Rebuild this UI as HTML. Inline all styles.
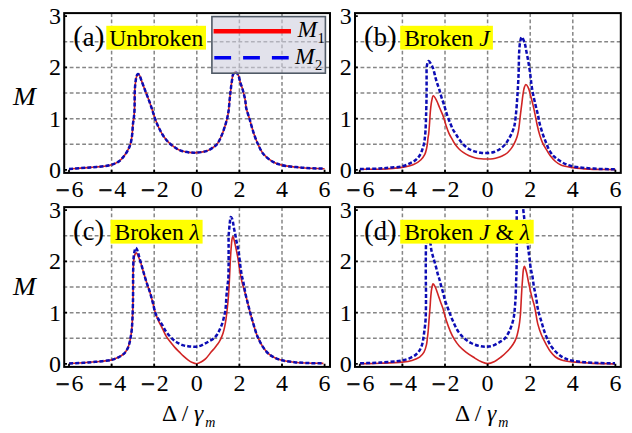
<!DOCTYPE html>
<html><head><meta charset="utf-8"><title>M vs detuning</title><style>
html,body{margin:0;padding:0;background:#fff;overflow:hidden;}
svg{display:block;}
.grid line{stroke:#868686;stroke-width:1.5;stroke-dasharray:3.8 2.45;fill:none;}
.frame{fill:none;stroke:#000;stroke-width:2;}
.tick{stroke:#000;stroke-width:1.8;fill:none;}
.tl{font-family:"Liberation Serif",serif;font-size:24px;fill:#000;}
.mn{stroke:#000;stroke-width:0.9px;}
.pp{font-size:29px;}
.lab.pl{font-size:26.5px;}
.lab{font-family:"Liberation Serif",serif;font-size:23.5px;fill:#000;}
.it{font-style:italic;}
.sub{font-family:"Liberation Serif",serif;font-size:14.5px;fill:#000;}
.sub2{font-size:14px;}
.ml{font-family:"Liberation Serif",serif;font-style:italic;font-size:26px;fill:#000;}
.ybox{fill:#ffff00;}
.leg{fill:#cfcfdd;fill-opacity:0.6;stroke:#505a66;stroke-width:1.6;}
.m1{fill:none;stroke:#d02424;stroke-width:1.6;stroke-linejoin:round;}
.m2d{fill:none;stroke:#0c0cb4;stroke-width:2.5;stroke-dasharray:4 2.1;}
</style></head>
<body><svg width="632" height="433" viewBox="0 0 632 433">
<rect width="632" height="433" fill="#fff"/>
<clipPath id="clip00"><rect x="64.20" y="13.10" width="265.80" height="159.80"/></clipPath>
<g class="grid"><line x1="111.60" y1="13.25" x2="111.60" y2="172.90"/><line x1="154.20" y1="13.25" x2="154.20" y2="172.90"/><line x1="196.80" y1="13.25" x2="196.80" y2="172.90"/><line x1="239.40" y1="13.25" x2="239.40" y2="172.90"/><line x1="282.00" y1="13.25" x2="282.00" y2="172.90"/><line x1="63.45" y1="144.28" x2="330.00" y2="144.28"/><line x1="63.45" y1="118.65" x2="330.00" y2="118.65"/><line x1="63.45" y1="93.03" x2="330.00" y2="93.03"/><line x1="63.45" y1="67.40" x2="330.00" y2="67.40"/><line x1="63.45" y1="41.78" x2="330.00" y2="41.78"/></g>
<path class="m1" clip-path="url(#clip00)" d="M69.00 168.90 C76.10 168.40 83.34 168.03 90.30 167.40 C97.00 166.79 104.85 166.54 110.00 165.20 C113.53 164.28 116.16 163.25 118.60 161.60 C120.88 160.06 122.64 157.94 124.30 155.80 C125.98 153.64 127.52 150.86 128.60 148.70 C129.45 147.01 129.96 145.88 130.50 144.00 C131.25 141.40 131.80 137.65 132.20 134.40 C132.61 131.09 132.58 127.23 132.90 124.30 C133.15 122.04 133.55 120.47 133.80 118.30 C134.10 115.76 134.34 113.24 134.50 110.00 C134.72 105.42 134.60 97.30 134.70 93.40 C134.76 91.28 134.79 90.16 134.90 88.50 C135.02 86.77 135.19 84.97 135.40 83.20 C135.62 81.41 135.78 79.40 136.20 77.80 C136.56 76.46 136.93 74.50 137.60 74.20 C138.04 74.00 138.73 74.34 139.20 74.80 C140.02 75.61 140.45 77.89 141.10 79.60 C141.84 81.53 142.61 83.68 143.40 85.80 C144.24 88.04 145.08 90.30 146.00 92.70 C147.01 95.34 148.17 98.17 149.20 101.00 C150.27 103.93 151.31 107.01 152.30 110.00 C153.28 112.94 154.00 115.82 155.10 118.80 C156.28 121.98 157.69 125.43 159.20 128.50 C160.64 131.42 162.14 134.29 163.90 136.80 C165.56 139.16 167.24 141.22 169.40 143.20 C171.78 145.38 175.32 147.86 177.70 149.20 C179.31 150.10 180.36 150.50 182.00 151.00 C184.02 151.62 186.59 152.13 189.00 152.40 C191.52 152.68 194.02 152.80 196.80 152.60 C200.03 152.36 204.14 151.93 207.20 150.80 C209.93 149.79 212.60 147.82 214.40 146.50 C215.60 145.62 216.27 145.19 217.20 144.00 C218.65 142.14 220.22 138.72 221.50 135.80 C222.88 132.65 224.10 128.82 225.10 125.70 C225.95 123.06 226.61 120.85 227.20 118.30 C227.82 115.63 228.30 112.96 228.70 110.00 C229.16 106.62 229.38 102.22 229.70 99.10 C229.94 96.74 230.17 94.98 230.40 92.90 C230.63 90.81 230.83 88.75 231.10 86.60 C231.39 84.35 231.73 81.87 232.10 79.70 C232.43 77.76 232.45 75.56 233.20 74.20 C233.77 73.15 234.80 71.84 235.60 71.90 C236.54 71.97 237.68 74.05 238.40 75.50 C239.27 77.24 239.47 79.72 240.10 81.80 C240.73 83.89 241.57 85.91 242.20 88.00 C242.83 90.08 243.38 92.20 243.90 94.30 C244.41 96.37 244.92 98.32 245.30 100.50 C245.71 102.87 245.63 105.32 246.20 108.00 C246.88 111.21 248.28 114.64 249.40 118.40 C250.72 122.83 252.09 128.42 253.60 132.90 C254.94 136.88 256.23 140.42 257.90 144.00 C259.56 147.56 261.06 151.31 263.60 154.30 C266.24 157.41 270.27 160.37 273.60 162.20 C276.37 163.72 278.47 164.29 281.90 165.10 C287.13 166.33 295.25 167.10 302.20 167.70 C309.47 168.33 317.13 168.37 324.60 168.70"/>
<path class="m2d" clip-path="url(#clip00)" d="M69.00 168.90 C76.10 168.40 83.34 168.03 90.30 167.40 C97.00 166.79 104.85 166.54 110.00 165.20 C113.53 164.28 116.16 163.25 118.60 161.60 C120.88 160.06 122.64 157.94 124.30 155.80 C125.98 153.64 127.52 150.86 128.60 148.70 C129.45 147.01 129.96 145.88 130.50 144.00 C131.25 141.40 131.80 137.65 132.20 134.40 C132.61 131.09 132.58 127.23 132.90 124.30 C133.15 122.04 133.55 120.47 133.80 118.30 C134.10 115.76 134.34 113.24 134.50 110.00 C134.72 105.42 134.60 97.30 134.70 93.40 C134.76 91.28 134.79 90.16 134.90 88.50 C135.02 86.77 135.19 84.97 135.40 83.20 C135.62 81.41 135.78 79.40 136.20 77.80 C136.56 76.46 136.93 74.50 137.60 74.20 C138.04 74.00 138.73 74.34 139.20 74.80 C140.02 75.61 140.45 77.89 141.10 79.60 C141.84 81.53 142.61 83.68 143.40 85.80 C144.24 88.04 145.08 90.30 146.00 92.70 C147.01 95.34 148.17 98.17 149.20 101.00 C150.27 103.93 151.31 107.01 152.30 110.00 C153.28 112.94 154.00 115.82 155.10 118.80 C156.28 121.98 157.69 125.43 159.20 128.50 C160.64 131.42 162.14 134.29 163.90 136.80 C165.56 139.16 167.24 141.22 169.40 143.20 C171.78 145.38 175.32 147.86 177.70 149.20 C179.31 150.10 180.36 150.50 182.00 151.00 C184.02 151.62 186.59 152.13 189.00 152.40 C191.52 152.68 194.02 152.80 196.80 152.60 C200.03 152.36 204.14 151.93 207.20 150.80 C209.93 149.79 212.60 147.82 214.40 146.50 C215.60 145.62 216.27 145.19 217.20 144.00 C218.65 142.14 220.22 138.72 221.50 135.80 C222.88 132.65 224.10 128.82 225.10 125.70 C225.95 123.06 226.61 120.85 227.20 118.30 C227.82 115.63 228.30 112.96 228.70 110.00 C229.16 106.62 229.38 102.22 229.70 99.10 C229.94 96.74 230.17 94.98 230.40 92.90 C230.63 90.81 230.83 88.75 231.10 86.60 C231.39 84.35 231.73 81.87 232.10 79.70 C232.43 77.76 232.45 75.56 233.20 74.20 C233.77 73.15 234.80 71.84 235.60 71.90 C236.54 71.97 237.68 74.05 238.40 75.50 C239.27 77.24 239.47 79.72 240.10 81.80 C240.73 83.89 241.57 85.91 242.20 88.00 C242.83 90.08 243.38 92.20 243.90 94.30 C244.41 96.37 244.92 98.32 245.30 100.50 C245.71 102.87 245.63 105.32 246.20 108.00 C246.88 111.21 248.28 114.64 249.40 118.40 C250.72 122.83 252.09 128.42 253.60 132.90 C254.94 136.88 256.23 140.42 257.90 144.00 C259.56 147.56 261.06 151.31 263.60 154.30 C266.24 157.41 270.27 160.37 273.60 162.20 C276.37 163.72 278.47 164.29 281.90 165.10 C287.13 166.33 295.25 167.10 302.20 167.70 C309.47 168.33 317.13 168.37 324.60 168.70"/>
<path class="tick" d="M69.00 172.90 V169.70 M111.60 172.90 V169.70 M154.20 172.90 V169.70 M196.80 172.90 V169.70 M239.40 172.90 V169.70 M282.00 172.90 V169.70 M324.60 172.90 V169.70 M64.20 169.90 H67.00 M64.20 118.65 H67.00 M64.20 67.40 H67.00 M64.20 16.15 H67.00"/>
<rect class="frame" x="64.20" y="13.10" width="265.80" height="159.80"/>
<text class="tl mn" x="69.60" y="198.00" text-anchor="end">−</text>
<text class="tl" x="71.60" y="196.80">6</text>
<text class="tl mn" x="112.20" y="198.00" text-anchor="end">−</text>
<text class="tl" x="114.20" y="196.80">4</text>
<text class="tl mn" x="154.80" y="198.00" text-anchor="end">−</text>
<text class="tl" x="156.80" y="196.80">2</text>
<text class="tl" x="196.80" y="196.80" text-anchor="middle">0</text>
<text class="tl" x="239.40" y="196.80" text-anchor="middle">2</text>
<text class="tl" x="282.00" y="196.80" text-anchor="middle">4</text>
<text class="tl" x="324.60" y="196.80" text-anchor="middle">6</text>
<text class="tl" x="61.00" y="177.90" text-anchor="end">0</text>
<text class="tl" x="61.00" y="126.65" text-anchor="end">1</text>
<text class="tl" x="61.00" y="75.40" text-anchor="end">2</text>
<text class="tl" x="61.00" y="24.15" text-anchor="end">3</text>
<clipPath id="clip2900"><rect x="355.00" y="13.10" width="265.80" height="159.80"/></clipPath>
<g class="grid"><line x1="402.40" y1="13.25" x2="402.40" y2="172.90"/><line x1="445.00" y1="13.25" x2="445.00" y2="172.90"/><line x1="487.60" y1="13.25" x2="487.60" y2="172.90"/><line x1="530.20" y1="13.25" x2="530.20" y2="172.90"/><line x1="572.80" y1="13.25" x2="572.80" y2="172.90"/><line x1="354.25" y1="144.28" x2="620.80" y2="144.28"/><line x1="354.25" y1="118.65" x2="620.80" y2="118.65"/><line x1="354.25" y1="93.03" x2="620.80" y2="93.03"/><line x1="354.25" y1="67.40" x2="620.80" y2="67.40"/><line x1="354.25" y1="41.78" x2="620.80" y2="41.78"/></g>
<path class="m1" clip-path="url(#clip2900)" d="M359.90 169.20 C366.60 169.20 373.14 169.48 380.00 169.20 C387.22 168.91 396.05 168.40 402.20 167.40 C406.66 166.68 410.35 166.01 413.60 164.60 C416.36 163.41 418.78 161.81 420.70 160.00 C422.44 158.36 423.81 156.40 424.80 154.40 C425.75 152.49 426.16 150.20 426.60 148.30 C426.98 146.67 427.17 145.31 427.40 143.70 C427.65 141.93 427.77 139.86 428.00 138.10 C428.21 136.52 428.48 135.48 428.70 133.60 C429.07 130.50 429.41 125.15 429.70 121.20 C429.97 117.58 430.05 114.26 430.40 110.80 C430.75 107.33 431.18 103.17 431.80 100.40 C432.23 98.50 432.56 95.81 433.30 95.70 C434.09 95.58 435.52 98.61 436.50 100.40 C437.66 102.52 438.56 105.28 439.60 107.70 C440.63 110.11 441.86 112.69 442.70 114.90 C443.40 116.73 443.84 118.23 444.40 120.00 C445.01 121.91 445.48 123.88 446.20 126.00 C447.04 128.47 448.12 131.58 449.20 133.90 C450.11 135.85 451.12 137.38 452.10 139.10 C453.08 140.81 453.98 142.59 455.10 144.20 C456.21 145.79 457.44 147.33 458.80 148.70 C460.15 150.06 461.57 151.27 463.20 152.40 C464.97 153.62 467.04 154.77 469.10 155.70 C471.18 156.64 473.51 157.48 475.60 158.00 C477.46 158.46 479.12 158.63 481.00 158.80 C483.04 158.98 485.34 159.02 487.40 159.00 C489.33 158.98 491.20 158.95 493.00 158.70 C494.72 158.47 496.50 158.06 498.00 157.60 C499.29 157.20 500.21 156.81 501.50 156.20 C503.19 155.39 505.55 154.33 507.20 153.00 C508.80 151.71 510.11 150.04 511.30 148.40 C512.47 146.80 513.39 145.11 514.30 143.30 C515.27 141.39 516.21 139.26 516.90 137.20 C517.57 135.19 518.00 133.17 518.40 131.10 C518.80 129.00 519.01 127.02 519.30 124.70 C519.65 121.94 519.93 118.72 520.30 115.60 C520.69 112.30 521.17 108.80 521.60 105.40 C522.03 102.00 522.40 98.40 522.90 95.20 C523.35 92.34 523.70 89.01 524.40 87.10 C524.83 85.95 525.32 84.55 525.90 84.50 C526.51 84.45 527.37 85.91 528.00 87.10 C529.01 88.99 529.69 92.33 530.50 95.20 C531.40 98.39 532.32 102.08 533.10 105.40 C533.84 108.54 534.45 111.46 535.10 114.60 C535.78 117.89 536.33 121.31 537.10 124.70 C537.89 128.18 538.78 131.95 539.80 135.20 C540.71 138.10 541.60 140.74 542.80 143.30 C543.97 145.80 545.55 148.19 546.90 150.40 C548.11 152.39 549.12 154.20 550.50 156.00 C551.96 157.90 553.65 159.94 555.50 161.50 C557.30 163.02 559.00 164.33 561.40 165.30 C564.49 166.55 568.60 166.99 572.80 167.60 C577.91 168.34 583.62 168.76 589.90 169.10 C597.57 169.51 606.97 169.43 615.50 169.60"/>
<path class="m2d" clip-path="url(#clip2900)" d="M359.90 169.00 C366.60 168.83 374.43 168.81 380.00 168.50 C383.98 168.28 386.66 167.93 390.20 167.60 C394.04 167.24 398.62 167.27 402.20 166.40 C405.28 165.65 408.00 164.38 410.50 163.10 C412.75 161.95 414.89 160.81 416.60 159.20 C418.28 157.63 419.66 155.51 420.70 153.60 C421.64 151.87 422.13 150.02 422.70 148.30 C423.22 146.72 423.66 145.32 424.00 143.70 C424.37 141.94 424.56 140.10 424.80 138.10 C425.07 135.81 425.31 133.63 425.50 130.70 C425.78 126.44 425.93 120.69 426.10 115.00 C426.31 108.22 426.54 98.50 426.60 92.70 C426.64 89.00 426.60 86.55 426.60 83.60 C426.60 80.80 426.57 78.19 426.60 75.40 C426.63 72.49 426.38 69.07 426.80 66.50 C427.14 64.45 427.64 61.24 428.50 61.10 C429.41 60.95 431.25 64.34 432.20 66.20 C433.16 68.07 433.61 70.26 434.20 72.30 C434.78 74.32 435.17 76.47 435.70 78.40 C436.18 80.16 436.64 81.66 437.20 83.40 C437.82 85.34 438.64 87.38 439.30 89.50 C440.01 91.77 440.61 94.34 441.30 96.60 C441.94 98.69 442.66 100.62 443.30 102.60 C443.92 104.52 444.46 106.23 445.10 108.30 C445.87 110.78 446.69 113.88 447.60 116.50 C448.46 118.97 449.48 121.35 450.40 123.60 C451.24 125.66 451.94 127.72 452.90 129.50 C453.77 131.12 454.78 132.32 455.80 133.90 C456.97 135.72 458.14 137.94 459.50 139.80 C460.84 141.64 462.35 143.47 463.90 145.00 C465.33 146.41 466.78 147.68 468.40 148.70 C470.01 149.71 471.69 150.45 473.60 151.10 C475.75 151.83 478.34 152.39 480.70 152.70 C482.98 153.00 485.26 153.12 487.50 153.00 C489.70 152.88 491.93 152.66 494.00 152.00 C496.09 151.33 498.15 150.26 500.00 149.00 C501.89 147.71 503.68 146.08 505.20 144.30 C506.75 142.49 508.05 140.17 509.20 138.20 C510.21 136.45 511.03 134.82 511.80 133.10 C512.56 131.42 513.29 129.65 513.80 128.00 C514.26 126.52 514.48 125.54 514.80 123.70 C515.35 120.51 515.88 114.90 516.30 110.50 C516.72 106.10 517.02 101.32 517.30 97.30 C517.54 93.93 517.72 91.16 517.90 88.00 C518.09 84.73 518.25 81.47 518.40 78.00 C518.56 74.23 518.69 70.22 518.80 66.20 C518.92 62.00 518.86 57.43 519.10 53.30 C519.32 49.48 519.52 45.26 520.10 42.30 C520.51 40.22 521.00 37.16 521.70 37.10 C522.47 37.04 523.83 40.69 524.60 42.90 C525.52 45.54 525.90 48.97 526.50 52.00 C527.10 55.01 527.69 58.10 528.20 61.00 C528.68 63.69 529.10 66.10 529.50 68.80 C529.93 71.71 530.35 75.05 530.70 77.90 C531.01 80.41 531.14 82.49 531.50 85.00 C531.91 87.87 532.46 90.99 533.10 94.20 C533.81 97.76 534.75 101.76 535.60 105.40 C536.42 108.88 537.39 112.39 538.10 115.60 C538.73 118.45 539.00 120.85 539.70 123.70 C540.51 126.97 541.71 130.86 542.80 134.10 C543.78 137.01 544.85 139.67 545.90 142.30 C546.88 144.76 547.70 147.18 548.90 149.40 C550.07 151.57 551.68 153.99 553.00 155.50 C553.92 156.56 554.60 157.03 555.70 157.90 C557.22 159.10 559.45 160.75 561.40 161.90 C563.26 163.00 565.17 163.94 567.10 164.70 C568.97 165.43 570.55 165.92 572.80 166.40 C575.93 167.07 580.01 167.49 584.20 167.90 C589.32 168.40 595.86 168.77 601.30 169.00 C606.25 169.21 610.77 169.20 615.50 169.30"/>
<path class="tick" d="M359.80 172.90 V169.70 M402.40 172.90 V169.70 M445.00 172.90 V169.70 M487.60 172.90 V169.70 M530.20 172.90 V169.70 M572.80 172.90 V169.70 M615.40 172.90 V169.70 M355.00 169.90 H357.80 M355.00 118.65 H357.80 M355.00 67.40 H357.80 M355.00 16.15 H357.80"/>
<rect class="frame" x="355.00" y="13.10" width="265.80" height="159.80"/>
<text class="tl mn" x="360.40" y="198.00" text-anchor="end">−</text>
<text class="tl" x="362.40" y="196.80">6</text>
<text class="tl mn" x="403.00" y="198.00" text-anchor="end">−</text>
<text class="tl" x="405.00" y="196.80">4</text>
<text class="tl mn" x="445.60" y="198.00" text-anchor="end">−</text>
<text class="tl" x="447.60" y="196.80">2</text>
<text class="tl" x="487.60" y="196.80" text-anchor="middle">0</text>
<text class="tl" x="530.20" y="196.80" text-anchor="middle">2</text>
<text class="tl" x="572.80" y="196.80" text-anchor="middle">4</text>
<text class="tl" x="615.40" y="196.80" text-anchor="middle">6</text>
<text class="tl" x="351.80" y="177.90" text-anchor="end">0</text>
<text class="tl" x="351.80" y="126.65" text-anchor="end">1</text>
<text class="tl" x="351.80" y="75.40" text-anchor="end">2</text>
<text class="tl" x="351.80" y="24.15" text-anchor="end">3</text>
<clipPath id="clip0194"><rect x="64.20" y="207.10" width="265.80" height="159.80"/></clipPath>
<g class="grid"><line x1="111.60" y1="207.25" x2="111.60" y2="366.90"/><line x1="154.20" y1="207.25" x2="154.20" y2="366.90"/><line x1="196.80" y1="207.25" x2="196.80" y2="366.90"/><line x1="239.40" y1="207.25" x2="239.40" y2="366.90"/><line x1="282.00" y1="207.25" x2="282.00" y2="366.90"/><line x1="63.45" y1="338.27" x2="330.00" y2="338.27"/><line x1="63.45" y1="312.65" x2="330.00" y2="312.65"/><line x1="63.45" y1="287.02" x2="330.00" y2="287.02"/><line x1="63.45" y1="261.40" x2="330.00" y2="261.40"/><line x1="63.45" y1="235.78" x2="330.00" y2="235.78"/></g>
<path class="m1" clip-path="url(#clip0194)" d="M69.10 363.40 C73.73 363.20 78.48 363.08 83.00 362.80 C87.31 362.54 91.16 362.24 95.60 361.80 C100.60 361.30 107.34 360.92 111.50 359.90 C114.32 359.21 116.32 358.32 118.40 357.30 C120.27 356.39 122.03 355.54 123.50 354.20 C125.01 352.82 126.33 350.86 127.30 349.10 C128.19 347.48 128.68 345.86 129.20 344.10 C129.76 342.21 130.11 340.25 130.50 338.10 C130.95 335.63 131.39 332.93 131.70 330.10 C132.05 326.94 132.20 323.94 132.40 320.00 C132.67 314.46 132.89 305.99 133.00 300.00 C133.09 295.12 133.09 290.44 133.10 286.70 C133.11 283.97 133.09 282.18 133.10 279.60 C133.12 276.51 133.10 272.53 133.20 269.40 C133.29 266.73 133.41 264.22 133.60 262.00 C133.76 260.17 133.88 258.44 134.20 257.00 C134.46 255.86 134.79 254.77 135.20 254.00 C135.49 253.45 135.85 252.71 136.20 252.70 C136.55 252.69 136.97 253.44 137.30 254.00 C137.76 254.77 138.05 255.90 138.50 257.00 C139.06 258.35 139.85 259.95 140.40 261.50 C140.97 263.08 141.35 264.68 141.85 266.40 C142.41 268.32 143.01 270.47 143.60 272.50 C144.19 274.53 144.78 276.57 145.40 278.60 C146.02 280.64 146.65 282.74 147.30 284.70 C147.91 286.54 148.53 287.94 149.20 290.00 C150.12 292.84 151.22 296.60 152.20 300.20 C153.29 304.21 154.21 309.29 155.40 313.00 C156.35 315.96 157.32 318.19 158.50 320.80 C159.74 323.55 161.39 326.48 162.70 329.10 C163.87 331.45 164.73 333.65 166.00 335.80 C167.29 337.98 168.89 340.12 170.40 342.10 C171.83 343.97 173.30 345.73 174.80 347.40 C176.24 348.99 177.74 350.42 179.20 351.90 C180.64 353.35 182.02 354.86 183.50 356.20 C184.93 357.49 186.40 358.73 187.90 359.80 C189.33 360.82 190.80 361.84 192.30 362.50 C193.68 363.11 195.08 363.75 196.50 363.70 C198.01 363.64 199.63 362.77 201.10 362.00 C202.64 361.19 204.01 360.28 205.50 358.90 C207.47 357.07 209.83 353.56 211.50 351.60 C212.66 350.24 213.53 349.36 214.50 348.20 C215.47 347.03 216.47 345.72 217.30 344.60 C218.01 343.64 218.62 342.84 219.20 341.90 C219.79 340.94 220.25 340.08 220.80 338.90 C221.54 337.30 222.45 335.14 223.10 333.10 C223.80 330.92 224.32 328.52 224.80 326.20 C225.28 323.88 225.64 321.70 226.00 319.20 C226.41 316.35 226.74 313.36 227.10 310.00 C227.54 305.95 228.06 300.86 228.40 296.60 C228.71 292.73 228.88 289.23 229.10 285.50 C229.32 281.70 229.51 277.94 229.70 274.00 C229.91 269.85 230.06 265.44 230.30 261.20 C230.53 257.01 230.80 252.49 231.10 248.70 C231.35 245.54 231.54 242.24 231.90 240.00 C232.13 238.56 232.35 236.54 232.70 236.50 C232.98 236.47 233.37 237.59 233.70 238.50 C234.32 240.21 234.88 243.32 235.50 246.20 C236.29 249.86 237.28 254.53 238.00 258.70 C238.71 262.83 239.11 267.11 239.80 271.10 C240.45 274.86 241.12 278.30 242.00 282.00 C242.93 285.90 244.25 290.01 245.30 293.90 C246.31 297.64 247.32 301.49 248.20 304.90 C248.96 307.86 249.52 310.33 250.30 313.20 C251.14 316.31 252.11 319.56 253.10 322.90 C254.16 326.48 255.50 331.22 256.50 334.00 C257.12 335.72 257.45 336.51 258.20 338.10 C259.30 340.44 260.92 343.93 262.70 346.60 C264.51 349.30 266.72 352.24 269.00 354.20 C270.97 355.89 273.12 356.98 275.30 358.00 C277.42 359.00 279.32 359.66 281.90 360.30 C285.35 361.16 290.13 361.75 294.30 362.20 C298.50 362.65 302.49 362.80 307.00 363.00 C312.12 363.22 317.93 363.27 323.40 363.40"/>
<path class="m2d" clip-path="url(#clip0194)" d="M69.10 363.40 C73.73 363.20 78.48 363.08 83.00 362.80 C87.31 362.54 91.16 362.24 95.60 361.80 C100.60 361.30 107.34 360.92 111.50 359.90 C114.32 359.21 116.32 358.32 118.40 357.30 C120.27 356.39 122.03 355.54 123.50 354.20 C125.01 352.82 126.33 350.86 127.30 349.10 C128.19 347.48 128.68 345.86 129.20 344.10 C129.76 342.21 130.11 340.25 130.50 338.10 C130.95 335.63 131.39 332.93 131.70 330.10 C132.05 326.94 132.20 323.94 132.40 320.00 C132.67 314.46 132.89 305.99 133.00 300.00 C133.09 295.12 133.09 290.44 133.10 286.70 C133.11 283.97 133.09 282.18 133.10 279.60 C133.12 276.51 133.12 272.91 133.20 269.40 C133.28 265.66 133.31 261.07 133.60 257.80 C133.81 255.38 134.06 253.30 134.50 251.50 C134.85 250.08 135.29 247.86 135.80 247.80 C136.22 247.75 136.82 249.20 137.20 250.00 C137.60 250.85 137.77 251.67 138.10 252.80 C138.60 254.51 139.19 257.09 139.80 259.30 C140.44 261.62 141.19 264.12 141.85 266.40 C142.46 268.51 143.01 270.47 143.60 272.50 C144.19 274.53 144.78 276.57 145.40 278.60 C146.02 280.64 146.65 282.74 147.30 284.70 C147.91 286.54 148.53 287.94 149.20 290.00 C150.12 292.84 151.22 296.60 152.20 300.20 C153.29 304.21 154.30 309.82 155.40 313.00 C156.09 314.99 156.60 316.06 157.50 317.70 C158.58 319.67 160.24 321.71 161.60 323.90 C163.08 326.28 164.43 329.25 166.00 331.50 C167.39 333.49 168.88 335.19 170.40 336.80 C171.82 338.30 173.27 339.74 174.80 340.90 C176.21 341.98 177.71 342.84 179.20 343.60 C180.61 344.32 182.03 344.97 183.50 345.40 C184.94 345.83 186.46 346.00 187.90 346.20 C189.29 346.39 190.60 346.52 192.00 346.60 C193.46 346.69 195.01 346.86 196.50 346.70 C198.01 346.54 199.61 346.11 201.00 345.60 C202.30 345.12 203.34 344.47 204.60 343.80 C206.05 343.03 207.67 342.11 209.20 341.20 C210.77 340.27 212.54 339.48 213.90 338.30 C215.23 337.14 216.29 335.74 217.30 334.20 C218.41 332.51 219.33 330.43 220.20 328.50 C221.06 326.59 221.85 324.74 222.50 322.70 C223.20 320.52 223.70 318.00 224.20 315.80 C224.66 313.79 225.11 311.87 225.40 310.00 C225.66 308.28 225.75 306.88 225.90 305.00 C226.09 302.56 226.16 299.59 226.40 296.60 C226.67 293.15 227.15 288.56 227.50 285.50 C227.74 283.35 228.02 282.21 228.20 280.00 C228.46 276.66 228.53 272.01 228.60 267.40 C228.69 261.78 228.60 253.30 228.60 248.70 C228.60 246.01 228.60 244.43 228.60 242.30 C228.60 240.17 228.50 238.04 228.60 235.90 C228.70 233.74 229.00 231.57 229.20 229.40 C229.40 227.23 229.53 225.02 229.80 222.90 C230.06 220.86 230.24 217.04 230.80 216.90 C231.12 216.82 231.66 217.79 232.00 218.50 C232.51 219.57 232.78 221.34 233.10 222.90 C233.46 224.65 233.64 226.58 234.00 228.50 C234.39 230.57 235.01 232.83 235.40 234.90 C235.76 236.82 235.94 238.58 236.30 240.50 C236.69 242.57 237.28 244.79 237.70 246.90 C238.11 248.95 238.45 250.62 238.80 253.00 C239.29 256.30 239.69 261.11 240.20 264.90 C240.67 268.38 241.13 271.86 241.70 274.90 C242.18 277.48 242.75 279.32 243.30 282.00 C244.01 285.45 244.67 290.02 245.50 293.90 C246.31 297.65 247.35 301.49 248.20 304.90 C248.94 307.86 249.52 310.33 250.30 313.20 C251.14 316.31 252.11 319.56 253.10 322.90 C254.16 326.48 255.50 331.22 256.50 334.00 C257.12 335.72 257.45 336.51 258.20 338.10 C259.30 340.44 260.92 343.93 262.70 346.60 C264.51 349.30 266.72 352.24 269.00 354.20 C270.97 355.89 273.12 356.98 275.30 358.00 C277.42 359.00 279.32 359.66 281.90 360.30 C285.35 361.16 290.13 361.75 294.30 362.20 C298.50 362.65 302.49 362.80 307.00 363.00 C312.12 363.22 317.93 363.27 323.40 363.40"/>
<path class="tick" d="M69.00 366.90 V363.70 M111.60 366.90 V363.70 M154.20 366.90 V363.70 M196.80 366.90 V363.70 M239.40 366.90 V363.70 M282.00 366.90 V363.70 M324.60 366.90 V363.70 M64.20 363.90 H67.00 M64.20 312.65 H67.00 M64.20 261.40 H67.00 M64.20 210.15 H67.00"/>
<rect class="frame" x="64.20" y="207.10" width="265.80" height="159.80"/>
<text class="tl mn" x="69.60" y="392.00" text-anchor="end">−</text>
<text class="tl" x="71.60" y="390.80">6</text>
<text class="tl mn" x="112.20" y="392.00" text-anchor="end">−</text>
<text class="tl" x="114.20" y="390.80">4</text>
<text class="tl mn" x="154.80" y="392.00" text-anchor="end">−</text>
<text class="tl" x="156.80" y="390.80">2</text>
<text class="tl" x="196.80" y="390.80" text-anchor="middle">0</text>
<text class="tl" x="239.40" y="390.80" text-anchor="middle">2</text>
<text class="tl" x="282.00" y="390.80" text-anchor="middle">4</text>
<text class="tl" x="324.60" y="390.80" text-anchor="middle">6</text>
<text class="tl" x="61.00" y="371.90" text-anchor="end">0</text>
<text class="tl" x="61.00" y="320.65" text-anchor="end">1</text>
<text class="tl" x="61.00" y="269.40" text-anchor="end">2</text>
<text class="tl" x="61.00" y="218.15" text-anchor="end">3</text>
<clipPath id="clip290194"><rect x="355.00" y="207.10" width="265.80" height="159.80"/></clipPath>
<g class="grid"><line x1="402.40" y1="207.25" x2="402.40" y2="366.90"/><line x1="445.00" y1="207.25" x2="445.00" y2="366.90"/><line x1="487.60" y1="207.25" x2="487.60" y2="366.90"/><line x1="530.20" y1="207.25" x2="530.20" y2="366.90"/><line x1="572.80" y1="207.25" x2="572.80" y2="366.90"/><line x1="354.25" y1="338.27" x2="620.80" y2="338.27"/><line x1="354.25" y1="312.65" x2="620.80" y2="312.65"/><line x1="354.25" y1="287.02" x2="620.80" y2="287.02"/><line x1="354.25" y1="261.40" x2="620.80" y2="261.40"/><line x1="354.25" y1="235.78" x2="620.80" y2="235.78"/></g>
<path class="m1" clip-path="url(#clip290194)" d="M360.10 363.80 C366.73 363.63 373.19 363.57 380.00 363.30 C387.20 363.02 396.31 362.77 402.20 362.10 C406.14 361.65 408.99 361.28 412.00 360.40 C414.74 359.60 417.54 358.68 419.60 357.20 C421.45 355.87 422.87 354.17 424.00 352.20 C425.24 350.04 425.93 347.07 426.50 344.60 C427.02 342.35 427.12 340.26 427.40 338.00 C427.69 335.63 427.95 333.42 428.20 330.70 C428.52 327.26 428.79 322.96 429.10 319.00 C429.42 314.90 429.81 310.46 430.10 306.50 C430.37 302.93 430.49 299.50 430.80 296.30 C431.07 293.44 431.32 290.46 431.80 288.20 C432.15 286.52 432.49 283.99 433.10 283.90 C433.68 283.81 434.61 285.84 435.30 287.20 C436.25 289.07 437.05 291.93 437.90 294.30 C438.75 296.66 439.55 299.03 440.40 301.40 C441.25 303.79 442.39 306.63 443.00 308.60 C443.42 309.93 443.55 310.72 443.90 312.00 C444.35 313.66 445.02 316.05 445.50 317.70 C445.87 318.98 446.03 319.67 446.50 321.10 C447.33 323.62 448.93 328.24 450.30 331.40 C451.52 334.22 452.69 336.72 454.20 339.20 C455.72 341.69 457.44 344.15 459.40 346.30 C461.35 348.44 463.58 350.29 465.90 352.10 C468.30 353.97 471.00 355.67 473.60 357.30 C476.16 358.90 478.91 360.73 481.40 361.80 C483.48 362.70 485.31 363.59 487.40 363.60 C489.69 363.61 492.39 362.54 494.60 361.50 C496.75 360.49 498.48 359.09 500.50 357.50 C502.89 355.62 505.73 353.11 507.90 350.80 C509.88 348.69 511.67 346.54 513.10 344.30 C514.43 342.23 515.45 340.19 516.30 337.90 C517.21 335.47 517.75 332.71 518.30 330.10 C518.85 327.51 519.24 324.97 519.60 322.30 C519.98 319.51 520.26 316.75 520.50 313.70 C520.77 310.24 520.88 306.54 521.10 302.60 C521.35 298.11 521.61 292.69 521.90 288.20 C522.15 284.26 522.43 280.45 522.70 277.10 C522.93 274.33 523.00 271.46 523.40 269.50 C523.66 268.22 523.99 266.40 524.40 266.40 C524.98 266.39 525.94 270.28 526.60 272.70 C527.46 275.83 527.99 279.94 528.80 283.70 C529.65 287.67 530.62 292.05 531.60 295.90 C532.49 299.41 533.70 302.96 534.40 305.90 C534.94 308.17 535.15 309.64 535.60 312.00 C536.21 315.25 536.72 319.76 537.70 323.60 C538.70 327.53 540.11 331.70 541.60 335.30 C542.95 338.55 544.54 341.46 546.10 344.30 C547.55 346.94 548.94 349.61 550.60 351.80 C552.10 353.78 553.65 355.64 555.50 357.00 C557.27 358.31 559.05 359.13 561.40 359.90 C564.52 360.92 568.60 361.39 572.80 361.90 C577.91 362.53 583.65 362.78 589.90 363.10 C597.46 363.49 606.63 363.63 615.00 363.90"/>
<path class="m2d" clip-path="url(#clip290194)" d="M360.10 363.30 C366.83 363.07 373.44 363.06 380.30 362.60 C387.46 362.12 396.91 361.43 402.20 360.40 C405.29 359.80 407.12 359.26 409.40 358.30 C411.65 357.35 414.04 356.14 415.80 354.70 C417.36 353.42 418.56 351.95 419.60 350.30 C420.68 348.59 421.47 346.61 422.10 344.60 C422.75 342.51 423.02 340.26 423.40 338.00 C423.79 335.63 424.07 333.41 424.40 330.70 C424.81 327.32 425.33 323.77 425.60 319.30 C425.99 312.97 425.97 303.67 426.00 296.30 C426.02 289.48 425.83 282.74 425.80 276.60 C425.77 271.21 425.78 266.10 425.80 261.40 C425.82 257.33 425.81 253.19 425.90 250.00 C425.97 247.68 425.84 245.73 426.20 244.00 C426.49 242.59 426.91 240.56 427.60 240.30 C428.11 240.11 429.02 240.74 429.50 241.30 C430.11 242.01 430.31 243.28 430.60 244.50 C430.96 246.03 430.96 247.99 431.30 249.80 C431.67 251.75 432.27 253.84 432.80 255.80 C433.31 257.70 433.84 259.42 434.40 261.40 C435.03 263.63 435.80 266.22 436.40 268.50 C436.96 270.61 437.38 272.80 437.90 274.60 C438.32 276.05 438.77 277.02 439.20 278.50 C439.76 280.42 440.28 282.94 440.90 285.20 C441.54 287.54 442.33 289.85 443.00 292.30 C443.71 294.90 444.21 297.81 445.00 300.40 C445.75 302.87 446.79 305.31 447.60 307.50 C448.31 309.40 448.85 310.87 449.60 312.80 C450.51 315.13 451.46 317.74 452.70 320.50 C454.20 323.85 456.04 328.35 458.10 331.40 C459.85 333.98 461.75 335.97 463.90 337.90 C466.05 339.84 468.48 341.66 471.00 343.00 C473.46 344.31 476.22 345.29 478.80 345.90 C481.19 346.47 483.54 346.75 485.90 346.70 C488.27 346.65 490.70 346.37 493.00 345.60 C495.44 344.79 497.96 343.16 500.10 341.80 C502.02 340.58 503.82 339.54 505.30 337.90 C506.90 336.13 508.10 333.61 509.20 331.40 C510.25 329.27 511.05 327.18 511.80 324.90 C512.60 322.47 513.36 319.45 513.80 317.20 C514.13 315.48 514.19 314.53 514.40 312.60 C514.75 309.32 515.22 303.99 515.50 299.30 C515.81 294.05 515.92 288.16 516.10 282.60 C516.28 277.06 516.48 271.86 516.60 266.00 C516.73 259.41 516.78 252.30 516.80 245.00 C516.82 237.03 516.67 227.27 516.70 220.00 C516.73 214.36 516.58 209.21 516.90 205.00 C517.13 201.91 517.30 198.97 518.00 197.00 C518.46 195.70 519.20 193.98 519.80 194.00 C520.47 194.03 521.30 196.44 521.80 198.00 C522.43 199.97 522.65 202.86 522.90 205.00 C523.11 206.80 523.12 208.15 523.30 210.00 C523.53 212.31 523.78 214.40 524.20 217.80 C525.00 224.27 526.95 238.53 527.90 245.90 C528.52 250.67 528.89 253.73 529.40 257.70 C529.92 261.76 530.41 266.84 531.00 270.00 C531.38 272.02 531.82 272.93 532.20 274.90 C532.77 277.84 533.17 282.32 533.80 286.00 C534.43 289.68 535.35 293.32 536.00 297.00 C536.65 300.68 537.17 305.35 537.70 308.10 C538.01 309.74 538.18 310.40 538.60 312.00 C539.28 314.62 540.57 318.86 541.60 322.30 C542.64 325.76 543.66 329.51 544.80 332.70 C545.81 335.51 547.02 338.35 548.00 340.50 C548.71 342.07 549.07 343.03 550.00 344.50 C551.31 346.57 553.52 349.45 555.50 351.50 C557.34 353.41 559.37 355.17 561.40 356.50 C563.24 357.71 565.16 358.60 567.10 359.30 C568.96 359.98 570.56 360.28 572.80 360.70 C575.93 361.29 580.01 361.81 584.20 362.20 C589.32 362.67 595.91 362.92 601.30 363.10 C606.12 363.26 610.43 363.23 615.00 363.30"/>
<path class="tick" d="M359.80 366.90 V363.70 M402.40 366.90 V363.70 M445.00 366.90 V363.70 M487.60 366.90 V363.70 M530.20 366.90 V363.70 M572.80 366.90 V363.70 M615.40 366.90 V363.70 M355.00 363.90 H357.80 M355.00 312.65 H357.80 M355.00 261.40 H357.80 M355.00 210.15 H357.80"/>
<rect class="frame" x="355.00" y="207.10" width="265.80" height="159.80"/>
<text class="tl mn" x="360.40" y="392.00" text-anchor="end">−</text>
<text class="tl" x="362.40" y="390.80">6</text>
<text class="tl mn" x="403.00" y="392.00" text-anchor="end">−</text>
<text class="tl" x="405.00" y="390.80">4</text>
<text class="tl mn" x="445.60" y="392.00" text-anchor="end">−</text>
<text class="tl" x="447.60" y="390.80">2</text>
<text class="tl" x="487.60" y="390.80" text-anchor="middle">0</text>
<text class="tl" x="530.20" y="390.80" text-anchor="middle">2</text>
<text class="tl" x="572.80" y="390.80" text-anchor="middle">4</text>
<text class="tl" x="615.40" y="390.80" text-anchor="middle">6</text>
<text class="tl" x="351.80" y="371.90" text-anchor="end">0</text>
<text class="tl" x="351.80" y="320.65" text-anchor="end">1</text>
<text class="tl" x="351.80" y="269.40" text-anchor="end">2</text>
<text class="tl" x="351.80" y="218.15" text-anchor="end">3</text>
<text class="lab pl" x="73.20" y="45.90"><tspan class="pp">(</tspan>a<tspan class="pp">)</tspan></text>
<rect class="ybox" x="106.30" y="25.80" width="99.70" height="23.80"/>
<text class="lab" x="109.30" y="45.90">Unbroken</text>
<text class="lab pl" x="364.00" y="45.90"><tspan class="pp">(</tspan>b<tspan class="pp">)</tspan></text>
<rect class="ybox" x="400.20" y="25.80" width="92.70" height="23.80"/>
<text class="lab" x="404.20" y="45.90">Broken <tspan font-style="italic">J</tspan></text>
<text class="lab pl" x="73.00" y="239.90"><tspan class="pp">(</tspan>c<tspan class="pp">)</tspan></text>
<rect class="ybox" x="110.50" y="219.80" width="92.10" height="23.80"/>
<text class="lab" x="114.50" y="239.90">Broken <tspan font-style="italic">λ</tspan></text>
<text class="lab pl" x="364.00" y="239.90"><tspan class="pp">(</tspan>d<tspan class="pp">)</tspan></text>
<rect class="ybox" x="400.20" y="219.80" width="133.50" height="23.80"/>
<text class="lab" x="404.20" y="239.90">Broken <tspan font-style="italic">J</tspan> &amp; <tspan font-style="italic">λ</tspan></text>
<rect class="leg" x="211.9" y="16.6" width="113.5" height="56.6"/>
<line x1="213.6" y1="31.3" x2="291" y2="31.3" stroke="#f00" stroke-width="4.4"/>
<line x1="214.3" y1="57.7" x2="290" y2="57.7" stroke="#00e" stroke-width="3.6" stroke-dasharray="16.8 12"/>
<text class="lab it" x="297.5" y="36.6">M</text><text class="sub" x="317.6" y="42.9">1</text>
<text class="lab it" x="295.0" y="63.6">M</text><text class="sub" x="315.0" y="69.9">2</text>
<text class="ml" transform="translate(13.00 104.60) scale(1.055 1)">M</text>
<text class="ml" transform="translate(13.00 295.40) scale(1.055 1)">M</text>
<text class="lab" x="162.00" y="420.5">Δ / <tspan font-style="italic">γ</tspan><tspan class="sub2" font-style="italic" dx="1.8" dy="6.5">m</tspan></text>
<text class="lab" x="455.00" y="420.5">Δ / <tspan font-style="italic">γ</tspan><tspan class="sub2" font-style="italic" dx="1.8" dy="6.5">m</tspan></text>
</svg></body></html>
